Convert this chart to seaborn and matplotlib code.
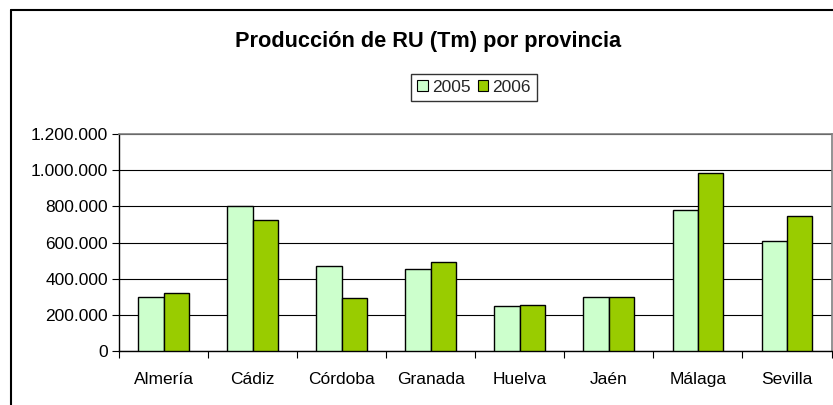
import matplotlib
matplotlib.use("Agg")
import matplotlib.pyplot as plt
import seaborn as sns
import pandas as pd
from matplotlib.lines import Line2D
from matplotlib.patches import Patch
from matplotlib.ticker import FuncFormatter

provincias = ["Almería", "Cádiz", "Córdoba", "Granada", "Huelva", "Jaén", "Málaga", "Sevilla"]
valores_2005 = [300000, 802000, 468000, 452000, 247000, 300000, 780000, 610000]
valores_2006 = [323000, 726000, 293000, 490000, 256000, 300000, 982000, 748000]
anios = ["2005", "2006"]
colores = ["#CCFFCC", "#99CC00"]

df = pd.DataFrame({
    "provincia": provincias * 2,
    "anio": [anios[0]] * len(provincias) + [anios[1]] * len(provincias),
    "valor": valores_2005 + valores_2006,
})

sns.set_theme(style="white")
plt.rcParams["font.family"] = ["Liberation Sans", "DejaVu Sans"]

W, H = 833, 405
fig = plt.figure(figsize=(W / 100, H / 100), dpi=100)
ax = fig.add_axes([119 / W, (H - 351) / H, (831.5 - 119) / W, (351 - 134) / H])

sns.barplot(data=df, x="provincia", y="valor", hue="anio", palette=colores,
            saturation=1, width=0.57, edgecolor="black", linewidth=1.0, ax=ax,
            legend=False, zorder=3)

ax.set_ylim(0, 1200000)
ax.set_yticks(range(0, 1200001, 200000))
ax.yaxis.set_major_formatter(FuncFormatter(lambda v, p: f"{int(v):,}".replace(",", ".")))
ax.grid(axis="y", color="black", linewidth=0.8, zorder=0)
ax.set_axisbelow(True)
ax.set_xlabel("")
ax.set_ylabel("")
ax.set_xlim(-0.5, len(provincias) - 0.5)

for s in ["top", "right"]:
    ax.spines[s].set_color("#808080")
    ax.spines[s].set_linewidth(1.2)
for s in ["left", "bottom"]:
    ax.spines[s].set_color("black")
    ax.spines[s].set_linewidth(1.0)

ax.tick_params(axis="y", which="both", left=True, length=5, width=0.8, color="black",
               labelsize=12.5, pad=3, labelcolor="black")
ax.set_xticks([i for i in range(len(provincias))])
ax.set_xticklabels(provincias)
ax.set_xticks([i - 0.5 for i in range(len(provincias) + 1)], minor=True)
ax.tick_params(axis="x", which="major", bottom=False, labelsize=12.5, pad=9, labelcolor="black")
ax.tick_params(axis="x", which="minor", bottom=True, length=5, width=0.8, color="black")

fig.text(428 / W, 1 - 42 / H, "Producción de RU (Tm) por provincia", ha="center", va="center",
         fontsize=15.7, fontweight="bold", color="black")

handles = [Patch(facecolor=colores[0], edgecolor="black", linewidth=0.8),
           Patch(facecolor=colores[1], edgecolor="black", linewidth=0.8)]
leg = fig.legend(handles, anios, loc="center", bbox_to_anchor=(474 / W, 1 - 87.5 / H),
                 ncol=2, frameon=True, fontsize=12.5, handlelength=0.6, handleheight=0.6,
                 handletextpad=0.25, columnspacing=0.4, borderpad=0.35, fancybox=False)
leg.get_frame().set_edgecolor("black")
leg.get_frame().set_linewidth(1.0)

fig.add_artist(Line2D([11 / W, 11 / W], [0, 1 - 10 / H], color="black", linewidth=1.5))
fig.add_artist(Line2D([11 / W, 1], [1 - 10 / H, 1 - 10 / H], color="black", linewidth=1.5))

fig.savefig("out.png", dpi=100)
